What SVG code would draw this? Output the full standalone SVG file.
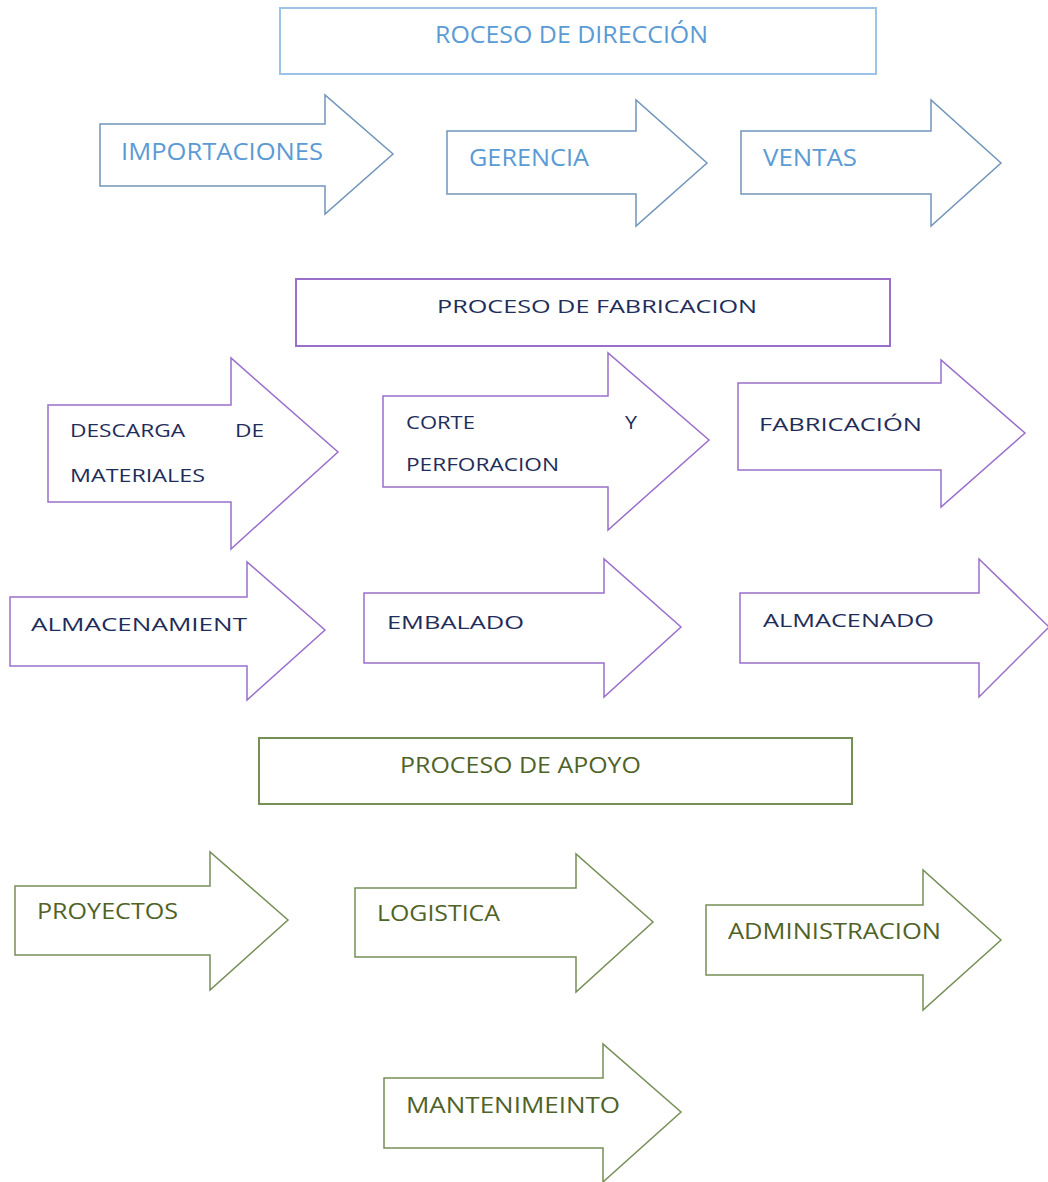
<svg xmlns="http://www.w3.org/2000/svg" width="1048" height="1182" viewBox="0 0 1048 1182">
<style>
.bg{fill:#ffffff}
.box{fill:#ffffff;stroke-width:2}
.arr{fill:#ffffff;stroke-width:1.5;stroke-linejoin:miter}
.b1{stroke:#9DC3E6}
.a1{stroke:#7295BA}
.p{stroke:#9A6FCB}
.g{stroke:#768F57}
text{font-family:"Open Sans","Noto Sans","Liberation Sans",sans-serif;}
.tb{fill:#5B9BD5;font-size:23px}
.tp{fill:#1F2D5A;font-size:19px}
.tg{fill:#4F6228;font-size:22px}
</style>
<rect class="bg" x="0" y="0" width="1048" height="1182"/>
<g id="connectors"></g>

<g id="box-direccion">
<rect class="box b1" x="280" y="8" width="596" height="66"/>
<text class="tb" x="435" y="43" textLength="273" lengthAdjust="spacingAndGlyphs">ROCESO DE DIRECCIÓN</text>
</g>
<g id="arrow-importaciones">
<path class="arr a1" d="M100,124 H325 V95 L393,154 L325,214 V186 H100 Z"/>
<text class="tb" x="121" y="160" textLength="202" lengthAdjust="spacingAndGlyphs">IMPORTACIONES</text>
</g>
<g id="arrow-gerencia">
<path class="arr a1" d="M447,131 H636 V100 L707,163 L636,226 V194 H447 Z"/>
<text class="tb" x="469" y="166" textLength="120" lengthAdjust="spacingAndGlyphs">GERENCIA</text>
</g>
<g id="arrow-ventas">
<path class="arr a1" d="M741,131 H931 V100 L1001,163 L931,226 V194 H741 Z"/>
<text class="tb" x="763" y="166" textLength="94" lengthAdjust="spacingAndGlyphs">VENTAS</text>
</g>

<g id="box-fabricacion">
<rect class="box p" x="296" y="279" width="594" height="67"/>
<text class="tp" x="437" y="313" font-size="22" textLength="320" lengthAdjust="spacingAndGlyphs">PROCESO DE FABRICACION</text>
</g>
<g id="arrow-descarga">
<path class="arr p" d="M48,405 H231 V358 L338,452 L231,549 V502 H48 Z"/>
<text class="tp" x="70" y="437" textLength="115" lengthAdjust="spacingAndGlyphs">DESCARGA</text>
<text class="tp" x="235" y="437" textLength="29" lengthAdjust="spacingAndGlyphs">DE</text>
<text class="tp" x="70" y="482" textLength="135" lengthAdjust="spacingAndGlyphs">MATERIALES</text>
</g>
<g id="arrow-corte">
<path class="arr p" d="M383,396 H608 V353 L709,440 L608,530 V487 H383 Z"/>
<text class="tp" x="406" y="429" textLength="69" lengthAdjust="spacingAndGlyphs">CORTE</text>
<text class="tp" x="625" y="429" textLength="12" lengthAdjust="spacingAndGlyphs">Y</text>
<text class="tp" x="406" y="471" textLength="153" lengthAdjust="spacingAndGlyphs">PERFORACION</text>
</g>
<g id="arrow-fabricacion">
<path class="arr p" d="M738,383 H941 V360 L1025,433 L941,507 V470 H738 Z"/>
<text class="tp" x="759" y="431" font-size="23" textLength="163" lengthAdjust="spacingAndGlyphs">FABRICACIÓN</text>
</g>
<g id="arrow-almacenamient">
<path class="arr p" d="M10,597 H247 V562 L325,630 L247,700 V666 H10 Z"/>
<text class="tp" x="31" y="631" font-size="23" textLength="216" lengthAdjust="spacingAndGlyphs">ALMACENAMIENT</text>
</g>
<g id="arrow-embalado">
<path class="arr p" d="M364,593 H604 V559 L681,627 L604,697 V663 H364 Z"/>
<text class="tp" x="387" y="629" font-size="23" textLength="137" lengthAdjust="spacingAndGlyphs">EMBALADO</text>
</g>
<g id="arrow-almacenado">
<path class="arr p" d="M740,593 H979 V559 L1049,627 L979,697 V663 H740 Z"/>
<text class="tp" x="763" y="627" font-size="23" textLength="171" lengthAdjust="spacingAndGlyphs">ALMACENADO</text>
</g>

<g id="box-apoyo">
<rect class="box g" x="259" y="738" width="593" height="66"/>
<text class="tg" x="400" y="773" textLength="241" lengthAdjust="spacingAndGlyphs">PROCESO DE APOYO</text>
</g>
<g id="arrow-proyectos">
<path class="arr g" d="M15,886 H210 V852 L288,920 L210,990 V955 H15 Z"/>
<text class="tg" x="37" y="919" textLength="141" lengthAdjust="spacingAndGlyphs">PROYECTOS</text>
</g>
<g id="arrow-logistica">
<path class="arr g" d="M355,888 H576 V854 L653,922 L576,992 V957 H355 Z"/>
<text class="tg" x="377" y="921" textLength="123" lengthAdjust="spacingAndGlyphs">LOGISTICA</text>
</g>
<g id="arrow-administracion">
<path class="arr g" d="M706,905 H923 V870 L1001,940 L923,1010 V975 H706 Z"/>
<text class="tg" x="728" y="939" textLength="213" lengthAdjust="spacingAndGlyphs">ADMINISTRACION</text>
</g>
<g id="arrow-mantenimeinto">
<path class="arr g" d="M384,1078 H603 V1044 L681,1112 L603,1182 V1148 H384 Z"/>
<text class="tg" x="406" y="1113" textLength="214" lengthAdjust="spacingAndGlyphs">MANTENIMEINTO</text>
</g>
</svg>
